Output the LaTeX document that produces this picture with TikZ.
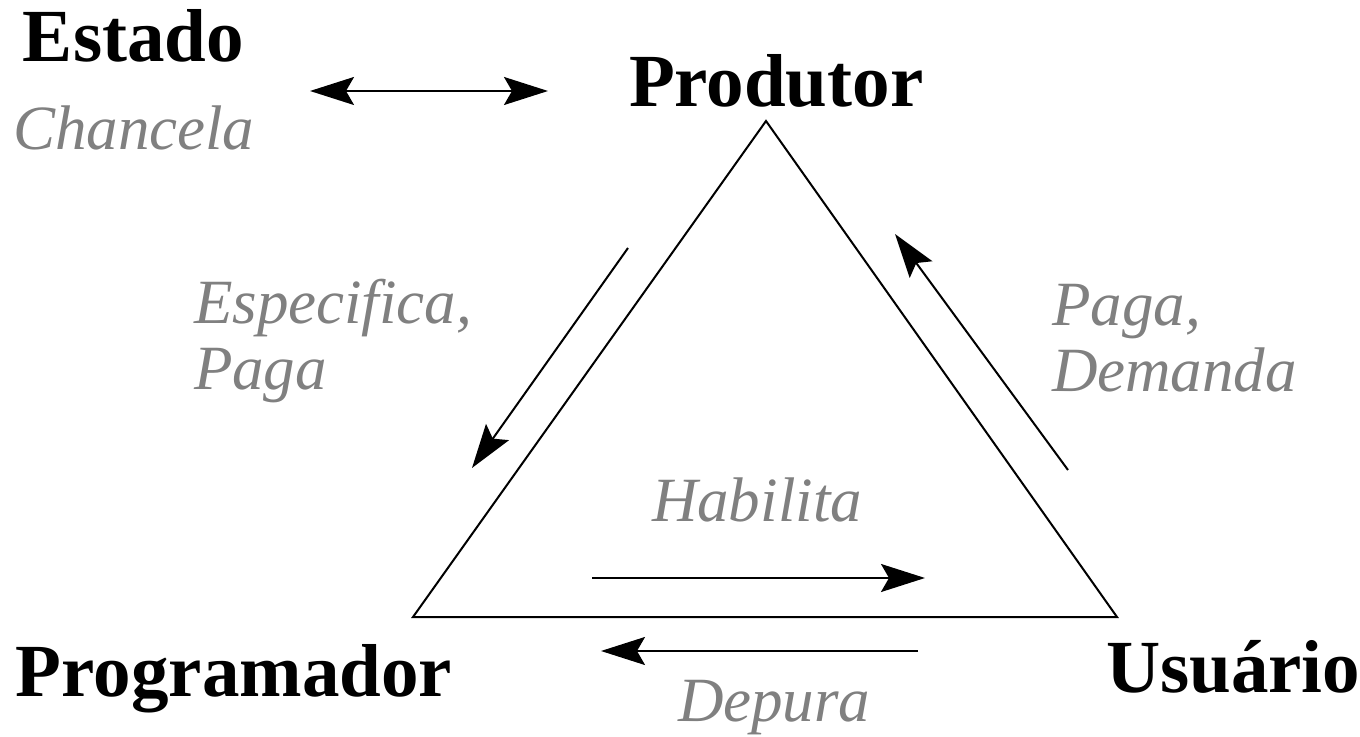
\documentclass[tikz,border=0pt]{standalone}
\usepackage{fontspec}
\setmainfont{Liberation Serif}
\usepackage{tikz}
\usetikzlibrary{arrows.meta}

\begin{document}
\begin{tikzpicture}[x=0.5pt,y=-0.5pt,line width=1pt,
    >={Stealth[length=22pt,width=14pt,inset=4pt]},
    actor/.style={font=\bfseries\fontsize{37.5}{44}\selectfont,inner sep=0pt,anchor=base west},
    action/.style={font=\itshape\fontsize{31.5}{33}\selectfont,text=gray,inner sep=0pt,anchor=base west,align=left}]
  \useasboundingbox (0,0) rectangle (1360,737);

  \node[actor] (estado) at (22,62) {Estado};
  \node[actor] (prod) at (628,107) {Produtor};
  \node[actor] (prog) at (15,696) {Programador};
  \node[actor] (user) at (1105,692) {Usuário};

  \node[action] (chancela) at (12,150) {Chancela};
  \node[action] (especifica) at (193,390) {Especifica,\\Paga};
  \node[action] (demanda) at (1051,392) {Paga,\\Demanda};
  \node[action] (habilita) at (651,522) {Habilita};
  \node[action] (depura) at (677,721) {Depura};

  % triangle
  \coordinate (top) at (766,121);
  \coordinate (left) at (413,617);
  \coordinate (right) at (1117,617);
  \draw (top) -- (right) -- (left) -- cycle;

  % arrows
  \coordinate (e1) at (310,91);
  \coordinate (e2) at (548,91);
  \draw[<->] (e1) -- (e2);

  \coordinate (s1) at (628,248);
  \coordinate (s2) at (472,468);
  \draw[->] (s1) -- (s2);

  \coordinate (d1) at (1068,470);
  \coordinate (d2) at (895,234);
  \draw[->] (d1) -- (d2);

  \coordinate (h1) at (592,578);
  \coordinate (h2) at (925,578);
  \draw[->] (h1) -- (h2);

  \coordinate (p1) at (918,651);
  \coordinate (p2) at (601,651);
  \draw[->] (p1) -- (p2);
\end{tikzpicture}
\end{document}
